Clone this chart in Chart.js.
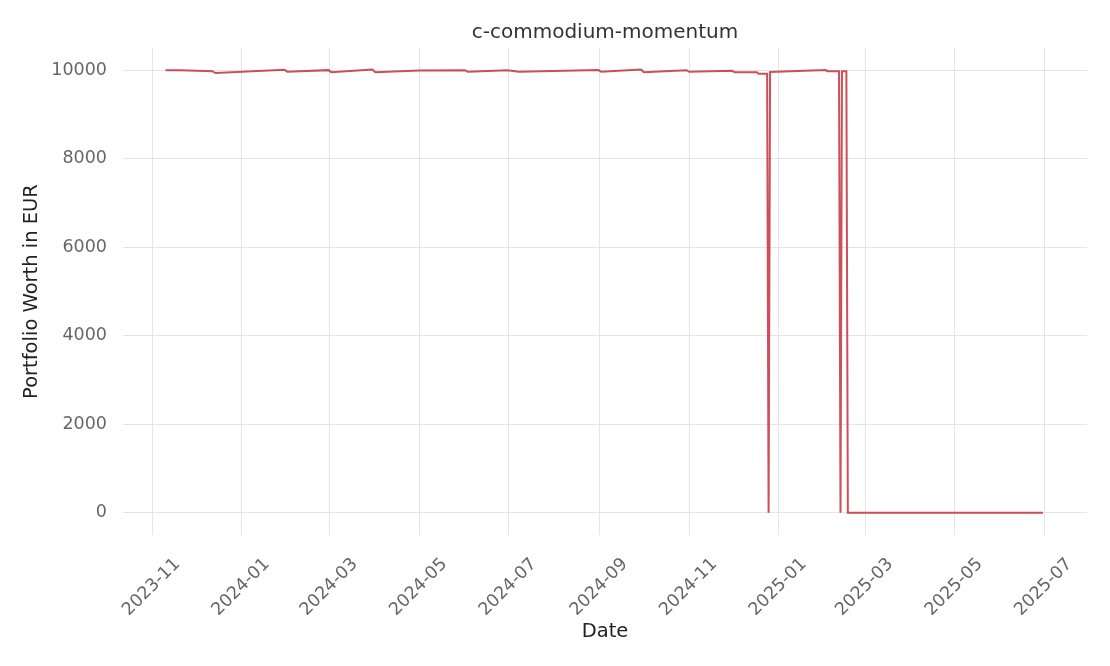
<!DOCTYPE html>
<html>
<head>
<meta charset="utf-8">
<title>c-commodium-momentum</title>
<script src="https://cdn.jsdelivr.net/npm/chart.js@4.4.1/dist/chart.umd.min.js"></script>
<style>
    html, body { margin: 0; padding: 0; background: #fff; }
    canvas { display: block; }
</style>
</head>
<body>
<canvas id="worthChart" width="1110" height="666"></canvas>
<script>
// portfolio worth (date, EUR)
const dates = [
    "2023-11-10", "2023-11-20", "2023-12-12", "2023-12-14", "2024-01-30", "2024-02-01",
    "2024-02-29", "2024-03-02", "2024-03-30", "2024-04-01", "2024-05-01", "2024-06-01",
    "2024-06-03", "2024-06-30", "2024-07-08", "2024-08-31", "2024-09-02", "2024-09-29",
    "2024-10-01", "2024-10-30", "2024-11-01", "2024-11-30", "2024-12-02", "2024-12-17",
    "2024-12-18", "2024-12-24", "2024-12-25", "2024-12-26", "2025-02-02", "2025-02-03",
    "2025-02-11", "2025-02-12", "2025-02-13", "2025-02-16", "2025-02-17", "2025-06-30"
];
const worth = [
    10000, 9998, 9975, 9935, 10010, 9965,
    10000, 9955, 10015, 9955, 9990, 10000,
    9962, 9998, 9965, 10002, 9962, 10015,
    9955, 9998, 9962, 9985, 9955, 9955,
    9920, 9920, 0, 9960, 10002, 9975,
    9975, 0, 9975, 9975, 0, 0
];

const tickDates = [
    "2023-11-01", "2024-01-01", "2024-03-01", "2024-05-01", "2024-07-01", "2024-09-01",
    "2024-11-01", "2025-01-01", "2025-03-01", "2025-05-01", "2025-07-01"
];
const yTicks = [0, 2000, 4000, 6000, 8000, 10000];

const baseDay = Date.UTC(2023, 10, 1);
function dayNum(s) {
    const p = s.split("-").map(Number);
    return (Date.UTC(p[0], p[1] - 1, p[2]) - baseDay) / 86400000;
}

const points = dates.map((d, i) => ({ x: dayNum(d), y: worth[i] }));
const tickLabels = {};
tickDates.forEach(d => { tickLabels[dayNum(d)] = d.slice(0, 7); });

const tickColor = "#666666";
const gridColor = "#e5e5e5";
const fontFamily = "'DejaVu Sans', sans-serif";

const ctx = document.getElementById("worthChart").getContext("2d");
new Chart(ctx, {
    type: "line",
    data: {
        datasets: [{
            label: "c-commodium-momentum",
            data: points,
            borderColor: "rgba(196, 48, 58, 0.85)",
            borderWidth: 2,
            pointRadius: 0,
            tension: 0,
            fill: false
        }]
    },
    options: {
        responsive: false,
        animation: false,
        layout: { padding: { top: 0, right: 23, bottom: 0, left: 0 } },
        plugins: {
            legend: { display: false },
            tooltip: { enabled: false },
            title: {
                display: true,
                text: "c-commodium-momentum",
                fullSize: false,
                color: "#333333",
                font: { family: fontFamily, size: 20, weight: "normal" },
                padding: { top: 21, bottom: 3 }
            }
        },
        scales: {
            x: {
                type: "linear",
                min: dayNum("2023-10-12"),
                max: dayNum("2025-07-30"),
                border: { display: false },
                grid: { color: gridColor, lineWidth: 1, drawTicks: false },
                afterBuildTicks: axis => {
                    axis.ticks = tickDates.map(d => ({ value: dayNum(d) }));
                },
                afterFit: axis => { axis.height = 131; },
                ticks: {
                    autoSkip: false,
                    maxRotation: 45,
                    minRotation: 45,
                    padding: 19,
                    labelOffset: 25,
                    color: tickColor,
                    font: { family: fontFamily, size: 17.5 },
                    callback: v => tickLabels[v]
                },
                title: {
                    display: true,
                    text: "Date",
                    color: "#222222",
                    font: { family: fontFamily, size: 19.5 },
                    padding: { top: 0, bottom: 22 }
                }
            },
            y: {
                min: -500,
                max: 10500,
                border: { display: false },
                grid: { color: gridColor, lineWidth: 1, drawTicks: false },
                afterBuildTicks: axis => {
                    axis.ticks = yTicks.map(v => ({ value: v }));
                },
                afterFit: axis => { axis.width = 123; },
                ticks: {
                    padding: 16,
                    color: tickColor,
                    font: { family: fontFamily, size: 17.5 },
                    callback: v => String(v)
                },
                title: {
                    display: true,
                    text: "Portfolio Worth in EUR",
                    color: "#222222",
                    font: { family: fontFamily, size: 19.5 },
                    padding: { top: 20, bottom: 0 }
                }
            }
        }
    }
});
</script>
</body>
</html>
